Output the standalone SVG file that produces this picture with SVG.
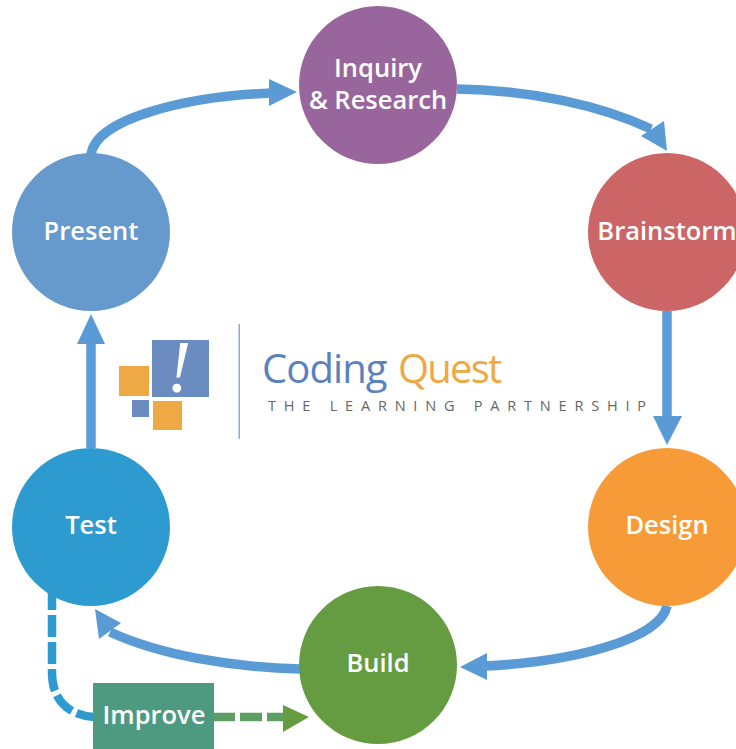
<svg xmlns="http://www.w3.org/2000/svg" width="736" height="749" viewBox="0 0 736 749">
<style>
.n{font-family:"Open Sans","Noto Sans",sans-serif;font-weight:600;font-size:25.500px;fill:#fff;text-anchor:middle}
.c{fill:none;stroke:#5b9bd5;stroke-width:9.500}
.h{fill:#5b9bd5}
.d{fill:none;stroke-width:8.500;stroke-dasharray:22 5}
</style>
<rect width="736" height="749" fill="#fff"/>
<g id="connectors">
<path class="c" d="M91 156C93 118 190 96 272 93"/>
<polygon class="h" points="269,79 297,92 269,106"/>
<path class="c" d="M457 89C530 90 600 105 651 129"/>
<polygon class="h" points="664,121 667,151 641,136"/>
<path class="c" d="M667 311V420"/>
<polygon class="h" points="653,416 682,416 667,445"/>
<path class="c" d="M667 606C660 640 570 662 485 666"/>
<polygon class="h" points="487,653 460,667 487,680"/>
<path class="c" d="M300 669C230 667 160 655 110 632"/>
<polygon class="h" points="95,609 121,623 99,639"/>
<path class="c" d="M91 448V340"/>
<polygon class="h" points="77,344 105,344 91,314"/>
<path class="d" stroke="#2e9bd0" d="M52 588V672C52 700 68 715 94 717"/>
<path class="d" stroke="#5f9e63" d="M213 717H285"/>
<polygon fill="#659c40" points="283,705 309,717 283,732"/>
</g>
<g id="inquiry"><circle cx="378" cy="85" r="79" fill="#98669c"/><text class="n"><tspan x="378" y="77">Inquiry</tspan><tspan x="378" y="109">&amp; Research</tspan></text></g>
<g id="brainstorm"><circle cx="667" cy="232" r="79" fill="#cc6565"/><text class="n" x="667" y="240">Brainstorm</text></g>
<g id="design"><circle cx="667" cy="527" r="79" fill="#f79a38"/><text class="n" x="667" y="534">Design</text></g>
<g id="build"><circle cx="378" cy="665" r="79" fill="#669c41"/><text class="n" x="378" y="672">Build</text></g>
<g id="test"><circle cx="91" cy="527" r="79" fill="#2e9bd0"/><text class="n" x="91" y="534">Test</text></g>
<g id="present"><circle cx="91" cy="232" r="79" fill="#6699cc"/><text class="n" x="91" y="240">Present</text></g>
<g id="improve"><rect x="93" y="683" width="121" height="66" fill="#4e9a80"/><text class="n" x="154" y="724">Improve</text></g>
<g id="logo">
<rect x="152" y="340" width="57" height="57" fill="#6b8cc0"/>
<rect x="119" y="366" width="30" height="30" fill="#eea944"/>
<rect x="132" y="400" width="17" height="17" fill="#6b8cc0"/>
<rect x="153" y="401" width="29" height="29" fill="#eea944"/>
<text x="179" y="392" font-family="'Liberation Serif',serif" font-style="italic" font-size="74" fill="#fff" text-anchor="middle">!</text>
<rect x="238.500" y="324" width="1.500" height="115" fill="#8ca9d0"/>
<text x="262" y="383" font-family="'Open Sans',sans-serif" font-size="40" letter-spacing="-0.900" fill="#5b82bd">Coding <tspan x="398" letter-spacing="-1.800" fill="#eea944">Quest</tspan></text>
<text x="268" y="411" font-family="'Open Sans',sans-serif" font-size="14.500" letter-spacing="7.800" fill="#666">THE LEARNING PARTNERSHIP</text>
</g>
</svg>
